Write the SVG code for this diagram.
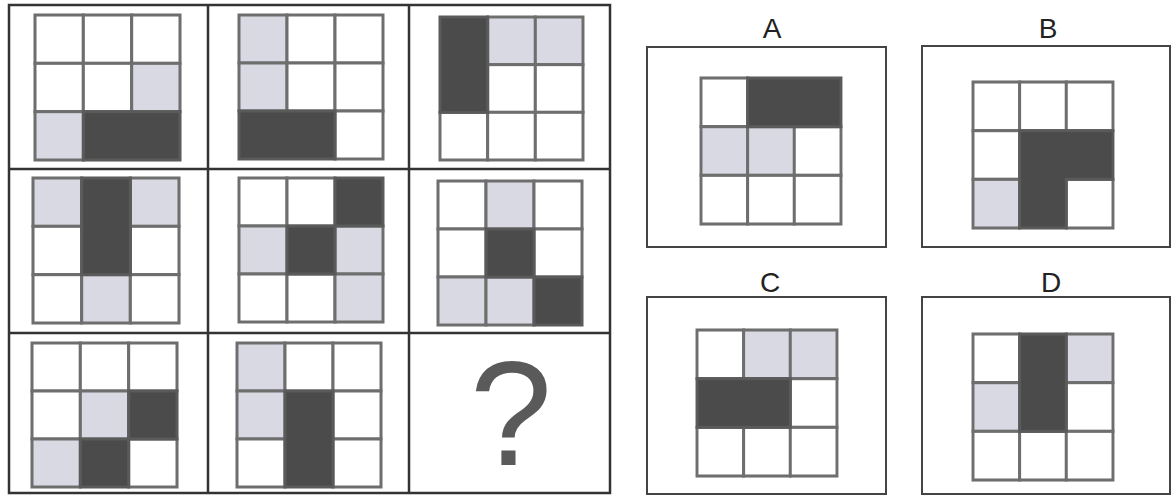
<svg xmlns="http://www.w3.org/2000/svg" width="1172" height="497" viewBox="0 0 1172 497">
<style>
.frame{fill:none;stroke:#333;stroke-width:2.5}
.box{fill:#fff;stroke:#444;stroke-width:2}
.w{fill:#fff;stroke:#6e6e6e;stroke-width:3}
.l{fill:#d9d9e3;stroke:#6e6e6e;stroke-width:3}
.d{fill:#4b4b4b;stroke:#5a5a5a;stroke-width:3}
.lab{font-family:"Liberation Sans",Arial,sans-serif;font-size:28px;fill:#222;text-anchor:middle}
.q{font-family:"Liberation Sans",Arial,sans-serif;font-size:148px;fill:#5a5a5a;text-anchor:middle}
</style>
<rect width="1172" height="497" fill="#fff"/>
<g id="matrix">
<rect class="frame" x="9" y="5" width="601" height="488"/>
<line class="frame" x1="208" y1="5" x2="208" y2="493"/>
<line class="frame" x1="409" y1="5" x2="409" y2="493"/>
<line class="frame" x1="9" y1="169" x2="610" y2="169"/>
<line class="frame" x1="9" y1="333" x2="610" y2="333"/>
</g>
<g id="g11" transform="translate(35,15) scale(1.007)">
<rect class="w" x="0" y="0" width="48" height="48"/><rect class="w" x="48" y="0" width="48" height="48"/><rect class="w" x="96" y="0" width="48" height="48"/>
<rect class="w" x="0" y="48" width="48" height="48"/><rect class="w" x="48" y="48" width="48" height="48"/><rect class="l" x="96" y="48" width="48" height="48"/>
<rect class="l" x="0" y="96" width="48" height="48"/><rect class="d" x="48" y="96" width="96" height="48"/>
</g>
<g id="g12" transform="translate(239,15)">
<rect class="l" x="0" y="0" width="48" height="48"/><rect class="w" x="48" y="0" width="48" height="48"/><rect class="w" x="96" y="0" width="48" height="48"/>
<rect class="l" x="0" y="48" width="48" height="48"/><rect class="w" x="48" y="48" width="48" height="48"/><rect class="w" x="96" y="48" width="48" height="48"/>
<rect class="w" x="96" y="96" width="48" height="48"/><rect class="d" x="0" y="96" width="96" height="48"/>
</g>
<g id="g13" transform="translate(440,17) scale(0.993)">
<rect class="l" x="48" y="0" width="48" height="48"/><rect class="l" x="96" y="0" width="48" height="48"/>
<rect class="w" x="48" y="48" width="48" height="48"/><rect class="w" x="96" y="48" width="48" height="48"/>
<rect class="w" x="0" y="96" width="48" height="48"/><rect class="w" x="48" y="96" width="48" height="48"/><rect class="w" x="96" y="96" width="48" height="48"/>
<rect class="d" x="0" y="0" width="48" height="96"/>
</g>
<g id="g21" transform="translate(33,178) scale(1.014,1.007)">
<rect class="l" x="0" y="0" width="48" height="48"/><rect class="l" x="96" y="0" width="48" height="48"/>
<rect class="w" x="0" y="48" width="48" height="48"/><rect class="w" x="96" y="48" width="48" height="48"/>
<rect class="w" x="0" y="96" width="48" height="48"/><rect class="l" x="48" y="96" width="48" height="48"/><rect class="w" x="96" y="96" width="48" height="48"/>
<rect class="d" x="48" y="0" width="48" height="96"/>
</g>
<g id="g22" transform="translate(239,178)">
<rect class="w" x="0" y="0" width="48" height="48"/><rect class="w" x="48" y="0" width="48" height="48"/>
<rect class="l" x="0" y="48" width="48" height="48"/><rect class="l" x="96" y="48" width="48" height="48"/>
<rect class="w" x="0" y="96" width="48" height="48"/><rect class="w" x="48" y="96" width="48" height="48"/><rect class="l" x="96" y="96" width="48" height="48"/>
<rect class="d" x="96" y="0" width="48" height="48"/><rect class="d" x="48" y="48" width="48" height="48"/>
</g>
<g id="g23" transform="translate(438,181)">
<rect class="w" x="0" y="0" width="48" height="48"/><rect class="l" x="48" y="0" width="48" height="48"/><rect class="w" x="96" y="0" width="48" height="48"/>
<rect class="w" x="0" y="48" width="48" height="48"/><rect class="w" x="96" y="48" width="48" height="48"/>
<rect class="l" x="0" y="96" width="48" height="48"/><rect class="l" x="48" y="96" width="48" height="48"/>
<rect class="d" x="48" y="48" width="48" height="48"/><rect class="d" x="96" y="96" width="48" height="48"/>
</g>
<g id="g31" transform="translate(32,343) scale(1.007,1)">
<rect class="w" x="0" y="0" width="48" height="48"/><rect class="w" x="48" y="0" width="48" height="48"/><rect class="w" x="96" y="0" width="48" height="48"/>
<rect class="w" x="0" y="48" width="48" height="48"/><rect class="l" x="48" y="48" width="48" height="48"/>
<rect class="l" x="0" y="96" width="48" height="48"/><rect class="w" x="96" y="96" width="48" height="48"/>
<rect class="d" x="96" y="48" width="48" height="48"/><rect class="d" x="48" y="96" width="48" height="48"/>
</g>
<g id="g32" transform="translate(237,343)">
<rect class="l" x="0" y="0" width="48" height="48"/><rect class="w" x="48" y="0" width="48" height="48"/><rect class="w" x="96" y="0" width="48" height="48"/>
<rect class="l" x="0" y="48" width="48" height="48"/><rect class="w" x="96" y="48" width="48" height="48"/>
<rect class="w" x="0" y="96" width="48" height="48"/><rect class="w" x="96" y="96" width="48" height="48"/>
<rect class="d" x="48" y="48" width="48" height="96"/>
</g>
<g id="g33">
<text class="q" x="511" y="465">?</text>
</g>
<g id="optA">
<text class="lab" x="772" y="38">A</text>
<rect class="box" x="647" y="47" width="239" height="200"/>
<g transform="translate(701,78) scale(0.972,1.014)">
<rect class="w" x="0" y="0" width="48" height="48"/>
<rect class="l" x="0" y="48" width="48" height="48"/><rect class="l" x="48" y="48" width="48" height="48"/><rect class="w" x="96" y="48" width="48" height="48"/>
<rect class="w" x="0" y="96" width="48" height="48"/><rect class="w" x="48" y="96" width="48" height="48"/><rect class="w" x="96" y="96" width="48" height="48"/>
<rect class="d" x="48" y="0" width="96" height="48"/>
</g>
</g>
<g id="optB">
<text class="lab" x="1048" y="38">B</text>
<rect class="box" x="922" y="46" width="248" height="201"/>
<g transform="translate(973,82) scale(0.972,1.014)">
<rect class="w" x="0" y="0" width="48" height="48"/><rect class="w" x="48" y="0" width="48" height="48"/><rect class="w" x="96" y="0" width="48" height="48"/>
<rect class="w" x="0" y="48" width="48" height="48"/>
<rect class="l" x="0" y="96" width="48" height="48"/><rect class="w" x="96" y="96" width="48" height="48"/>
<path class="d" d="M48 48H144V96H96V144H48Z"/>
</g>
</g>
<g id="optC">
<text class="lab" x="770" y="292">C</text>
<rect class="box" x="647" y="297" width="239" height="197"/>
<g transform="translate(697,330) scale(0.972,1.014)">
<rect class="w" x="0" y="0" width="48" height="48"/><rect class="l" x="48" y="0" width="48" height="48"/><rect class="l" x="96" y="0" width="48" height="48"/>
<rect class="w" x="96" y="48" width="48" height="48"/>
<rect class="w" x="0" y="96" width="48" height="48"/><rect class="w" x="48" y="96" width="48" height="48"/><rect class="w" x="96" y="96" width="48" height="48"/>
<rect class="d" x="0" y="48" width="96" height="48"/>
</g>
</g>
<g id="optD">
<text class="lab" x="1051" y="292">D</text>
<rect class="box" x="922" y="297" width="248" height="197"/>
<g transform="translate(973,334) scale(0.972,1.014)">
<rect class="w" x="0" y="0" width="48" height="48"/><rect class="l" x="96" y="0" width="48" height="48"/>
<rect class="l" x="0" y="48" width="48" height="48"/><rect class="w" x="96" y="48" width="48" height="48"/>
<rect class="w" x="0" y="96" width="48" height="48"/><rect class="w" x="48" y="96" width="48" height="48"/><rect class="w" x="96" y="96" width="48" height="48"/>
<rect class="d" x="48" y="0" width="48" height="96"/>
</g>
</g>
</svg>
